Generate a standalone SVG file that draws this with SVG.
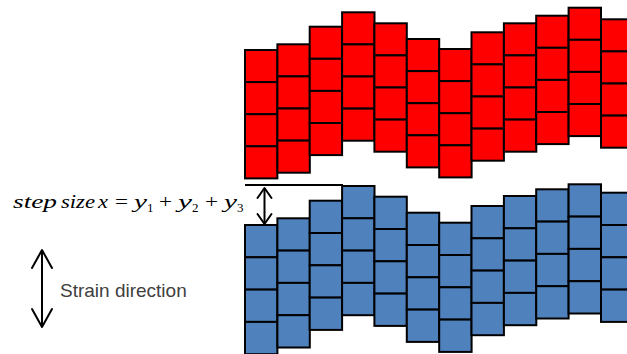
<svg xmlns="http://www.w3.org/2000/svg" width="627" height="354" viewBox="0 0 627 354">
  <style>
    .cell { stroke: #000; stroke-width: 2; }
    .line { stroke: #000; stroke-width: 2; fill: none; }
    .head { stroke: #000; stroke-width: 2; fill: none; stroke-linecap: round; stroke-linejoin: round; }
    .eq { font-family: "Liberation Serif", "DejaVu Serif", serif; font-style: italic; font-size: 18px; fill: #000; }
    .eq .op { font-style: normal; font-size: 19px; }
    .eq .sub { font-style: normal; font-size: 13px; }
    .label { font-family: "Liberation Sans", Arial, sans-serif; font-size: 19px; fill: #404040; }
  </style>
  <defs>
    <!-- column of four stacked cells; fill comes from the layer group -->
    <g id="colRed">
      <rect class="cell" x="0" y="0" width="32.4" height="32.1"/>
      <rect class="cell" x="0" y="32.1" width="32.4" height="32.1"/>
      <rect class="cell" x="0" y="64.2" width="32.4" height="32.1"/>
      <rect class="cell" x="0" y="96.3" width="32.4" height="32.1"/>
    </g>
    <g id="colBlue">
      <rect class="cell" x="0" y="0" width="32.4" height="32.3"/>
      <rect class="cell" x="0" y="32.3" width="32.4" height="32.3"/>
      <rect class="cell" x="0" y="64.6" width="32.4" height="32.3"/>
      <rect class="cell" x="0" y="96.9" width="32.4" height="32.3"/>
    </g>
  </defs>

  <!-- upper (red) layer -->
  <g id="red-layer" fill="#FF0000">
    <use id="red-1" href="#colRed" x="245" y="50"/>
    <use id="red-2" href="#colRed" x="277.4" y="44.3"/>
    <use id="red-3" href="#colRed" x="309.7" y="26.7"/>
    <use id="red-4" href="#colRed" x="342.1" y="12.3"/>
    <use id="red-5" href="#colRed" x="374.4" y="23.3"/>
    <use id="red-6" href="#colRed" x="406.8" y="39"/>
    <use id="red-7" href="#colRed" x="439.2" y="49"/>
    <use id="red-8" href="#colRed" x="471.5" y="32.3"/>
    <use id="red-9" href="#colRed" x="503.9" y="23.3"/>
    <use id="red-10" href="#colRed" x="536.2" y="15.7"/>
    <use id="red-11" href="#colRed" x="568.6" y="7.7"/>
    <use id="red-12" href="#colRed" x="601" y="19.3"/>
  </g>

  <!-- lower (blue) layer -->
  <g id="blue-layer" fill="#4F81BD">
    <use id="blue-1" href="#colBlue" x="245" y="225"/>
    <use id="blue-2" href="#colBlue" x="277.4" y="218.3"/>
    <use id="blue-3" href="#colBlue" x="309.7" y="200.7"/>
    <use id="blue-4" href="#colBlue" x="342.1" y="186"/>
    <use id="blue-5" href="#colBlue" x="374.4" y="196.7"/>
    <use id="blue-6" href="#colBlue" x="406.8" y="212.7"/>
    <use id="blue-7" href="#colBlue" x="439.2" y="222.7"/>
    <use id="blue-8" href="#colBlue" x="471.5" y="206"/>
    <use id="blue-9" href="#colBlue" x="503.9" y="196"/>
    <use id="blue-10" href="#colBlue" x="536.2" y="189.3"/>
    <use id="blue-11" href="#colBlue" x="568.6" y="184.3"/>
    <use id="blue-12" href="#colBlue" x="601" y="192.7"/>
  </g>

  <!-- reference line, step arrow and strain arrow -->
  <g id="connectors">
    <line class="line" x1="245" y1="185" x2="343" y2="185"/>
    <line class="line" x1="264.5" y1="188" x2="264.5" y2="224"/>
    <polyline class="head" points="257.5,198 264.5,188 271.5,198"/>
    <polyline class="head" points="257.5,214 264.5,224 271.5,214"/>

    <line class="line" x1="42" y1="250" x2="42" y2="327"/>
    <polyline class="head" points="32,268 42,250 52,268"/>
    <polyline class="head" points="32,309 42,327 52,309"/>
  </g>

  <!-- step size equation -->
  <g id="equation" class="eq">
    <text x="13" y="208" textLength="44" lengthAdjust="spacingAndGlyphs">step</text>
    <text x="61" y="208" textLength="34" lengthAdjust="spacingAndGlyphs">size</text>
    <text x="98" y="208" textLength="10" lengthAdjust="spacingAndGlyphs">x</text>
    <text class="op" x="115" y="208" textLength="13" lengthAdjust="spacingAndGlyphs">=</text>
    <text x="134" y="208" textLength="13" lengthAdjust="spacingAndGlyphs">y</text>
    <text class="sub" x="147" y="212">1</text>
    <text class="op" x="159" y="208" textLength="13" lengthAdjust="spacingAndGlyphs">+</text>
    <text x="178" y="208" textLength="14" lengthAdjust="spacingAndGlyphs">y</text>
    <text class="sub" x="192" y="212">2</text>
    <text class="op" x="205" y="208" textLength="13" lengthAdjust="spacingAndGlyphs">+</text>
    <text x="224" y="208" textLength="13" lengthAdjust="spacingAndGlyphs">y</text>
    <text class="sub" x="237" y="212">3</text>
  </g>

  <g id="legend">
    <text class="label" x="60" y="297">Strain direction</text>
  </g>
</svg>
